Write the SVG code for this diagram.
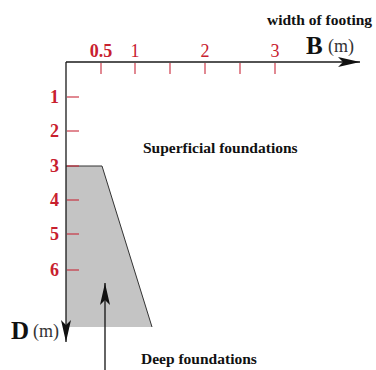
<svg xmlns="http://www.w3.org/2000/svg" width="376" height="370" viewBox="0 0 376 370">
<defs>
<style>
.ax{stroke:#1a1a1a;stroke-width:1.3;fill:none}
.tk{stroke:#c8283a;stroke-width:1.1}
.red{fill:#c8202e;font-family:"Liberation Serif",serif;font-size:18px}
.lbl{fill:#111;font-family:"Liberation Serif",serif;font-weight:bold;font-size:15.5px}
.big{fill:#111;font-family:"Liberation Serif",serif;font-weight:bold;font-size:25px}
.unit{fill:#333;font-family:"Liberation Serif",serif;font-size:18px}
</style>
<marker id="ah" markerWidth="24" markerHeight="12" refX="22" refY="6" orient="auto" markerUnits="userSpaceOnUse">
<path d="M0,1 L22,6 L0,11 L5,6 Z" fill="#111"/>
</marker>
</defs>
<rect width="376" height="370" fill="#fff"/>
<g id="deep-region">
<polygon points="66,166 102,166 152,327 66,327" fill="#c4c4c4"/>
<polyline points="66,166 102,166 152,327" fill="none" stroke="#333" stroke-width="1"/>
</g>
<g id="connectors">
<line class="ax" x1="66" y1="62" x2="360" y2="62" marker-end="url(#ah)"/>
<line class="ax" x1="66" y1="62" x2="66" y2="342" marker-end="url(#ah)"/>
<line stroke="#111" stroke-width="1.3" x1="105" y1="370" x2="105" y2="283" marker-end="url(#ah)"/>
</g>
<g id="x-ticks">
<line class="tk" x1="101" y1="63" x2="101" y2="74"/>
<line class="tk" x1="135" y1="63" x2="135" y2="74"/>
<line class="tk" x1="170" y1="63" x2="170" y2="74"/>
<line class="tk" x1="205" y1="63" x2="205" y2="74"/>
<line class="tk" x1="240" y1="63" x2="240" y2="74"/>
<line class="tk" x1="275" y1="63" x2="275" y2="74"/>
<text class="red" x="101" y="57" text-anchor="middle" font-weight="bold">0.5</text>
<text class="red" x="135" y="57" text-anchor="middle">1</text>
<text class="red" x="205" y="57" text-anchor="middle">2</text>
<text class="red" x="275" y="57" text-anchor="middle">3</text>
</g>
<g id="y-ticks">
<line class="tk" x1="67" y1="97" x2="79" y2="97"/>
<line class="tk" x1="67" y1="131" x2="79" y2="131"/>
<line class="tk" x1="67" y1="166" x2="79" y2="166"/>
<line class="tk" x1="67" y1="200" x2="79" y2="200"/>
<line class="tk" x1="67" y1="234" x2="79" y2="234"/>
<line class="tk" x1="67" y1="270" x2="79" y2="270"/>
<text class="red" x="59" y="103" text-anchor="end" font-weight="bold">1</text>
<text class="red" x="59" y="137" text-anchor="end" font-weight="bold">2</text>
<text class="red" x="59" y="172" text-anchor="end" font-weight="bold">3</text>
<text class="red" x="59" y="206" text-anchor="end" font-weight="bold">4</text>
<text class="red" x="59" y="240" text-anchor="end" font-weight="bold">5</text>
<text class="red" x="59" y="276" text-anchor="end" font-weight="bold">6</text>
</g>
<g id="labels">
<text class="lbl" x="267" y="25">width of footing</text>
<text class="big" x="306" y="54">B</text>
<text class="unit" x="328" y="52">(m)</text>
<text class="big" x="11" y="339">D</text>
<text class="unit" x="33" y="337">(m)</text>
<text class="lbl" x="143" y="153">Superficial foundations</text>
<text class="lbl" x="141" y="364">Deep foundations</text>
</g>
</svg>
